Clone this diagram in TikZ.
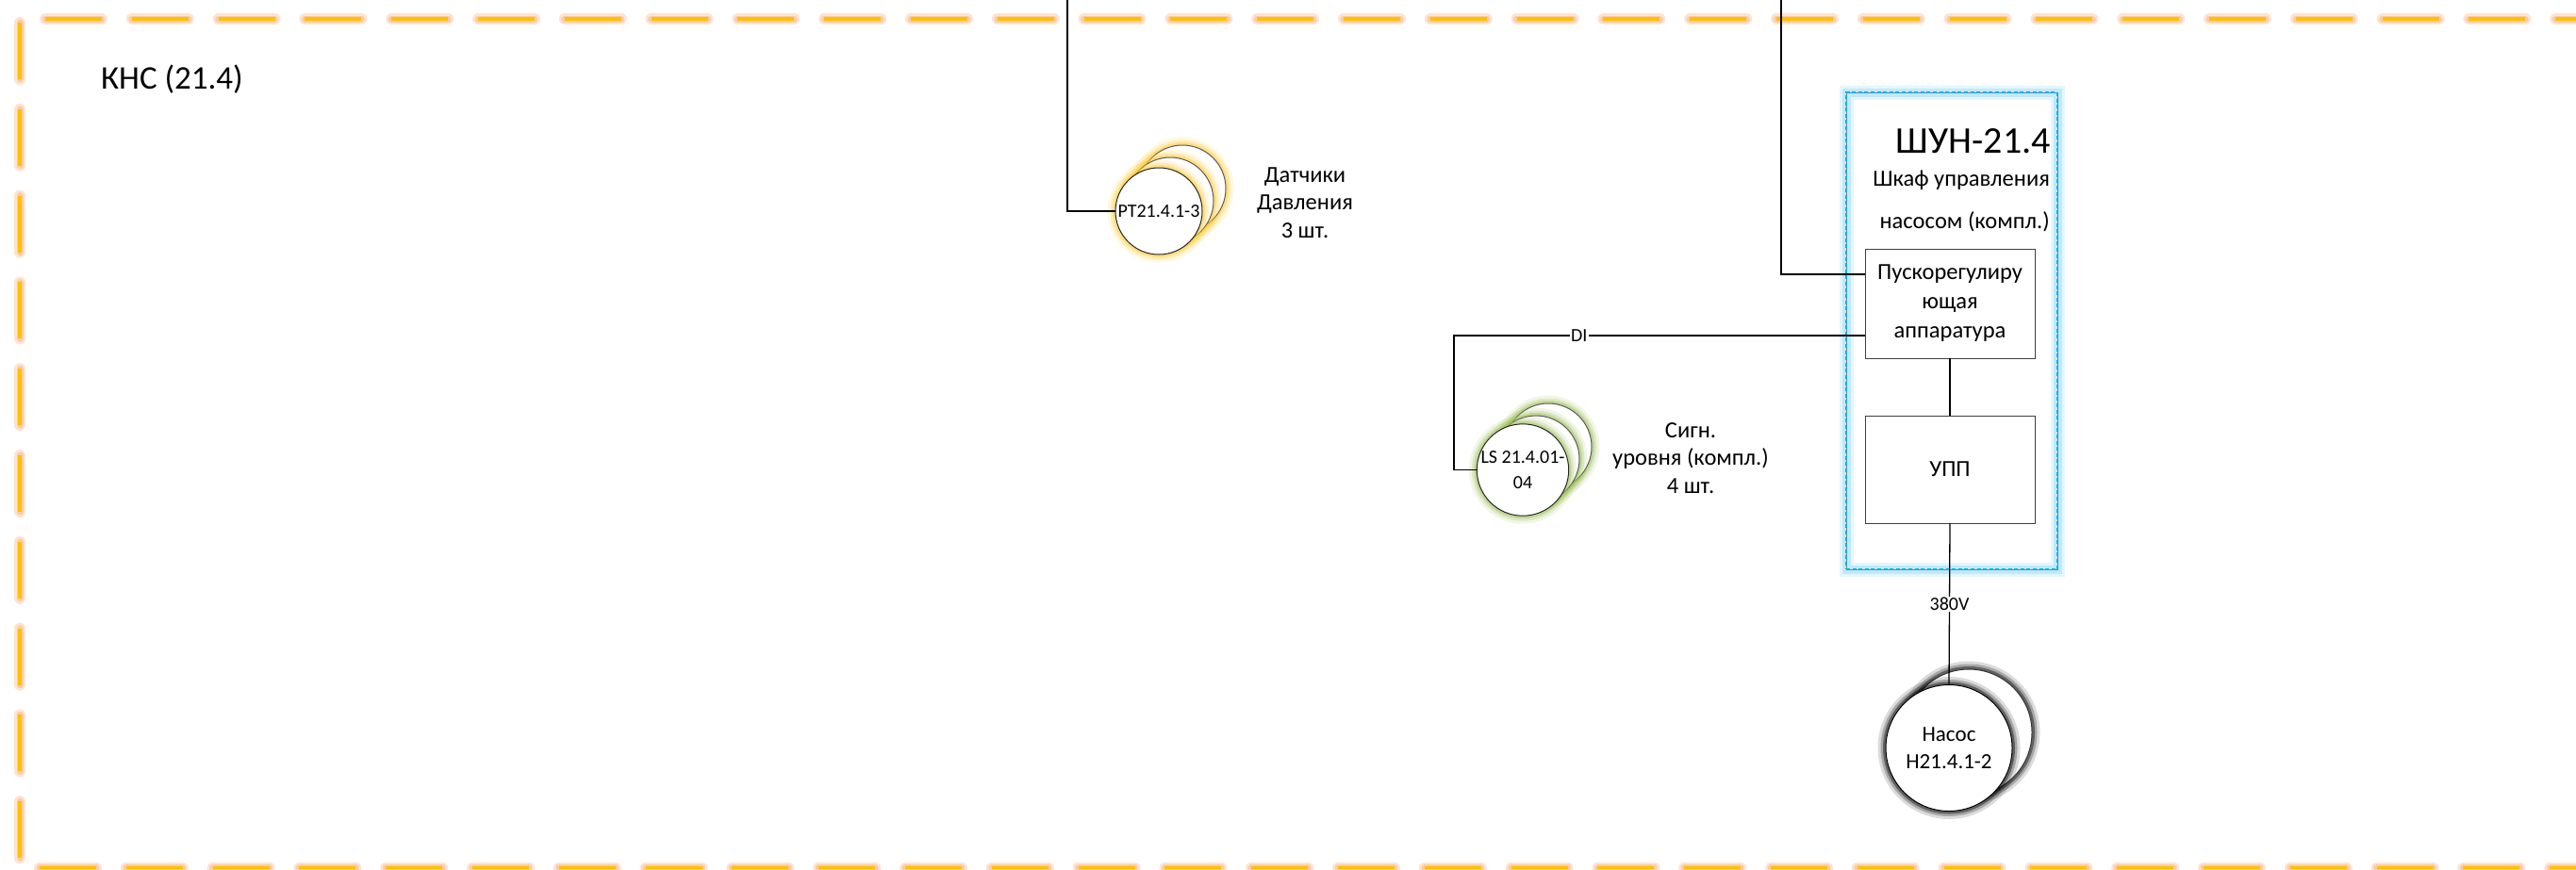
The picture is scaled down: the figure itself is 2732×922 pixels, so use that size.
\documentclass[tikz,border=0pt]{standalone}
\usepackage{fontspec}
\setmainfont{Carlito}
\usetikzlibrary{calc}

\definecolor{frameOrange}{HTML}{FFC000}
\definecolor{frameGlow}{HTML}{F6A66A}
\definecolor{cabBlue}{HTML}{00B0F0}
\definecolor{cabGlow}{HTML}{6CCBF2}
\definecolor{ptGlow}{HTML}{FFCC33}
\definecolor{lsGlow}{HTML}{9BBF55}
\definecolor{edgeGray}{HTML}{404040}

\tikzset{
  fs/.style={font=\fontsize{#1}{#1}\selectfont},
  halo/.style={
    preaction={draw=#1, line width=17pt, draw opacity=.14},
    preaction={draw=#1, line width=11pt, draw opacity=.24},
    preaction={draw=#1, line width=6pt, draw opacity=.42}},
  framecore/.style={draw=frameOrange, line width=3.2pt},
  frameglow/.style={draw=frameGlow, line width=12pt, draw opacity=.3, line cap=round},
  frameglowin/.style={draw=frameGlow, line width=7pt, draw opacity=.38, line cap=round},
  sensor/.style={circle, fill=white, draw=black!85, line width=1pt,
    minimum size=92pt, inner sep=0pt, align=center,
    font=\fontsize{20}{27}\selectfont},
  pumpc/.style={circle, fill=white, draw=black, line width=1pt,
    minimum size=134pt, inner sep=0pt, align=center,
    font=\fontsize{23}{29}\selectfont, halo=black},
  unit/.style={rectangle, draw=edgeGray, line width=.9pt, fill=white,
    inner sep=0pt, align=center, font=\fontsize{24.5}{31}\selectfont},
  cabinet/.style={rectangle, inner sep=0pt,
    preaction={draw=cabGlow, line width=15pt, draw opacity=.18},
    preaction={draw=cabGlow, line width=9pt, draw opacity=.3},
    draw=gray, line width=.8pt,
    postaction={draw=cabBlue, line width=2.6pt, dash pattern=on 4pt off 2.6pt}},
  caption/.style={inner sep=0pt, align=center, font=\fontsize{24.5}{29.5}\selectfont},
  wire/.style={draw=black, line width=1.3pt},
  tag/.style={fill=white, inner xsep=1pt, inner ysep=1pt,
    font=\fontsize{20}{24}\selectfont},
}

\begin{document}
\begin{tikzpicture}[x=1pt,y=-1pt]
\useasboundingbox (0,0) rectangle (2732,922);
\clip (0,0) rectangle (2732,922);

% station boundary: dashed orange frame with a soft halo
\coordinate (fTL) at (21,20);
\coordinate (fTR) at (2740,20);
\coordinate (fBL) at (21,920.5);
\coordinate (fBR) at (2740,920.5);
\foreach \st in {frameglow,frameglowin,framecore}{
  \draw[\st, dash pattern=on 60pt off 31.8pt, dash phase=64.8pt] (fTL) -- (fTR);
  \draw[\st, dash pattern=on 60pt off 31.8pt, dash phase=87.8pt] (fTL) -- (fBL);
  \draw[\st, dash pattern=on 60pt off 31.8pt, dash phase=70.8pt] (fBL) -- (fBR);
  \draw[\st, dash pattern=on 60pt off 31.8pt, dash phase=87.8pt] (fTR) -- (fBR);
}

\node[anchor=base west, inner sep=0pt, fs=35] (kns) at (107,94) {КНС (21.4)};

% pressure sensors
\node[sensor, halo=ptGlow, draw=black!65] (pt3) at (1254,200) {};
\node[sensor, halo=ptGlow, draw=black!65] (pt2) at (1241,213) {};
\node[sensor, halo=ptGlow] (pt) at (1229,224) {PT21.4.1-3};
\node[caption] (ptText) at (1384,215) {Датчики\\Давления\\3 шт.};

% level switches
\node[sensor, halo=lsGlow, draw=black!65] (ls3) at (1642,474) {};
\node[sensor, halo=lsGlow, draw=black!65] (ls2) at (1629,487) {};
\node[sensor, halo=lsGlow] (ls) at (1615,498.5) {LS 21.4.01-\\04};
\node[caption] (lsText) at (1793,486) {Сигн.\\уровня (компл.)\\4 шт.};

% pump control cabinet
\node[cabinet, minimum width=224pt, minimum height=506pt] (shun) at (2070,351) {};
\node[anchor=base east, inner sep=0pt, fs=40] (shunTitle) at (2175,162) {ШУН-21.4};
\node[anchor=base east, inner sep=0pt, fs=24.5] (shunSub1) at (2174,197) {Шкаф управления};
\node[anchor=base east, inner sep=0pt, fs=24.5] (shunSub2) at (2174,242) {насосом (компл.)};
\node[unit, minimum width=180pt, minimum height=116pt] (pra) at (2068,322)
  {Пускорегулиру\\ющая\\аппаратура};
\node[unit, minimum width=180pt, minimum height=114pt] (upp) at (2068,498) {УПП};

% pumps
\node[pumpc, draw=black!80] (pump2) at (2088,777) {};
\node[pumpc] (pump) at (2067,793.5) {Насос\\Н21.4.1-2};

% wiring
\coordinate (ptFeed) at (1132,0);
\coordinate (shunFeed) at (1889,0);
\coordinate (diBend) at (1542,356);
\draw[wire] (ptFeed) |- (pt.west);
\draw[wire] (shunFeed) |- ([yshift=31pt]pra.west);
\draw[wire] ([yshift=-34pt]pra.west) -- node[tag, pos=.695] {DI} (diBend) |- (ls.west);
\draw[wire] (pra.south) -- (upp.north);
\draw[wire] (upp.south) -- node[tag] {380V} (pump.north);
\end{tikzpicture}
\end{document}
